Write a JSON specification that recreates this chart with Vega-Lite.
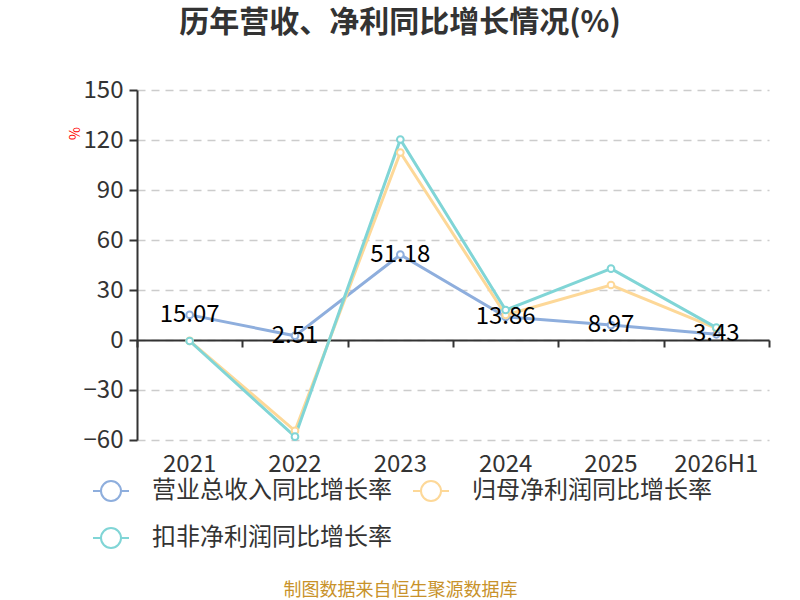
{
  "$schema": "https://vega.github.io/schema/vega-lite/v6.json",
  "width": 632,
  "height": 350,
  "autosize": {"type": "none"},
  "padding": {"left": 137, "top": 90, "right": 31, "bottom": 160},
  "background": "white",
  "config": {
    "font": "Noto Sans CJK SC",
    "view": {"stroke": null}
  },
  "title": {
    "text": "历年营收、净利同比增长情况(%)",
    "fontSize": 30,
    "fontWeight": "bold",
    "color": "#333333",
    "anchor": "middle",
    "dx": -53,
    "offset": 40
  },
  "data": {
    "values": [
      {"year": "2021", "series": "营业总收入同比增长率", "value": 15.07},
      {"year": "2022", "series": "营业总收入同比增长率", "value": 2.51},
      {"year": "2023", "series": "营业总收入同比增长率", "value": 51.18},
      {"year": "2024", "series": "营业总收入同比增长率", "value": 13.86},
      {"year": "2025", "series": "营业总收入同比增长率", "value": 8.97},
      {"year": "2026H1", "series": "营业总收入同比增长率", "value": 3.43},
      {"year": "2021", "series": "归母净利润同比增长率", "value": -0.5},
      {"year": "2022", "series": "归母净利润同比增长率", "value": -54.5},
      {"year": "2023", "series": "归母净利润同比增长率", "value": 112.5},
      {"year": "2024", "series": "归母净利润同比增长率", "value": 15.0},
      {"year": "2025", "series": "归母净利润同比增长率", "value": 33.0},
      {"year": "2026H1", "series": "归母净利润同比增长率", "value": 7.0},
      {"year": "2021", "series": "扣非净利润同比增长率", "value": -0.6},
      {"year": "2022", "series": "扣非净利润同比增长率", "value": -58.0},
      {"year": "2023", "series": "扣非净利润同比增长率", "value": 120.3},
      {"year": "2024", "series": "扣非净利润同比增长率", "value": 18.0},
      {"year": "2025", "series": "扣非净利润同比增长率", "value": 42.8},
      {"year": "2026H1", "series": "扣非净利润同比增长率", "value": 7.4}
    ]
  },
  "resolve": {"axis": {"x": "independent"}},
  "layer": [
    {
      "mark": {"type": "line", "strokeWidth": 3},
      "encoding": {
        "x": {
          "field": "year", "type": "ordinal",
          "sort": ["2021", "2022", "2023", "2024", "2025", "2026H1"],
          "scale": {"paddingInner": 0, "paddingOuter": 0},
          "axis": {
            "orient": "bottom",
            "offset": -100,
            "labels": false,
            "title": null,
            "domain": true,
            "domainColor": "#333333",
            "domainWidth": 2,
            "ticks": true,
            "tickBand": "extent",
            "tickColor": "#333333",
            "tickWidth": 2,
            "tickSize": 7,
            "grid": false
          }
        },
        "y": {
          "field": "value", "type": "quantitative",
          "scale": {"domain": [-60, 150], "nice": false, "zero": false},
          "axis": {
            "values": [-60, -30, 0, 30, 60, 90, 120, 150],
            "title": "%",
            "titleColor": "#ff0000",
            "titleFontSize": 14,
            "titleFontWeight": "normal",
            "titleX": -62,
            "titleY": 43,
            "titleAngle": -90,
            "titleAlign": "center",
            "titleBaseline": "middle",
            "labelFontSize": 24,
            "labelColor": "#333333",
            "labelPadding": 6,
            "domain": true,
            "domainColor": "#333333",
            "domainWidth": 2,
            "ticks": true,
            "tickColor": "#333333",
            "tickWidth": 2,
            "tickSize": 8,
            "grid": true,
            "gridColor": "#cccccc",
            "gridWidth": 1.5,
            "gridDash": [8, 6]
          }
        },
        "color": {
          "field": "series", "type": "nominal",
          "scale": {
            "domain": ["营业总收入同比增长率", "归母净利润同比增长率", "扣非净利润同比增长率"],
            "range": ["#8eaedd", "#fdd898", "#80d5d6"]
          },
          "legend": {
            "orient": "none",
            "legendX": -47,
            "legendY": 380,
            "direction": "horizontal",
            "columns": 2,
            "title": null,
            "symbolType": "M-0.9,0L-0.5,0M0.5,0L0.9,0M0.5,0A0.5,0.5,0,1,1,-0.5,0A0.5,0.5,0,1,1,0.5,0",
            "symbolSize": 1600,
            "symbolStrokeWidth": 2,
            "symbolFillColor": "white",
            "labelFontSize": 24,
            "labelColor": "#333333",
            "labelOffset": 20,
            "columnPadding": 17,
            "rowPadding": 12,
            "labelLimit": 400
          }
        }
      }
    },
    {
      "mark": {"type": "point", "filled": true, "fill": "white", "size": 45, "strokeWidth": 2, "opacity": 1},
      "encoding": {
        "x": {
          "field": "year", "type": "ordinal",
          "sort": ["2021", "2022", "2023", "2024", "2025", "2026H1"],
          "axis": {
            "orient": "bottom",
            "labelAngle": 0,
            "labelFontSize": 24,
            "labelColor": "#333333",
            "labelPadding": 12,
            "domain": false,
            "ticks": false,
            "grid": false,
            "title": "制图数据来自恒生聚源数据库",
            "titleColor": "#c8922a",
            "titleFontSize": 18,
            "titleFontWeight": "normal",
            "titleX": 263,
            "titleY": 150,
            "titleAlign": "center",
            "titleBaseline": "middle",
            "titleAnchor": null
          }
        },
        "y": {"field": "value", "type": "quantitative"},
        "stroke": {"field": "series", "type": "nominal", "legend": null,
          "scale": {
            "domain": ["营业总收入同比增长率", "归母净利润同比增长率", "扣非净利润同比增长率"],
            "range": ["#8eaedd", "#fdd898", "#80d5d6"]
          }}
      }
    },
    {
      "transform": [{"filter": "datum.series === '营业总收入同比增长率'"}],
      "mark": {"type": "text", "fontSize": 24, "color": "#000000", "align": "center", "baseline": "middle"},
      "encoding": {
        "x": {
          "field": "year", "type": "ordinal",
          "sort": ["2021", "2022", "2023", "2024", "2025", "2026H1"],
          "axis": null
        },
        "y": {"field": "value", "type": "quantitative"},
        "text": {"field": "value", "type": "quantitative", "format": ".2f"}
      }
    }
  ]
}
